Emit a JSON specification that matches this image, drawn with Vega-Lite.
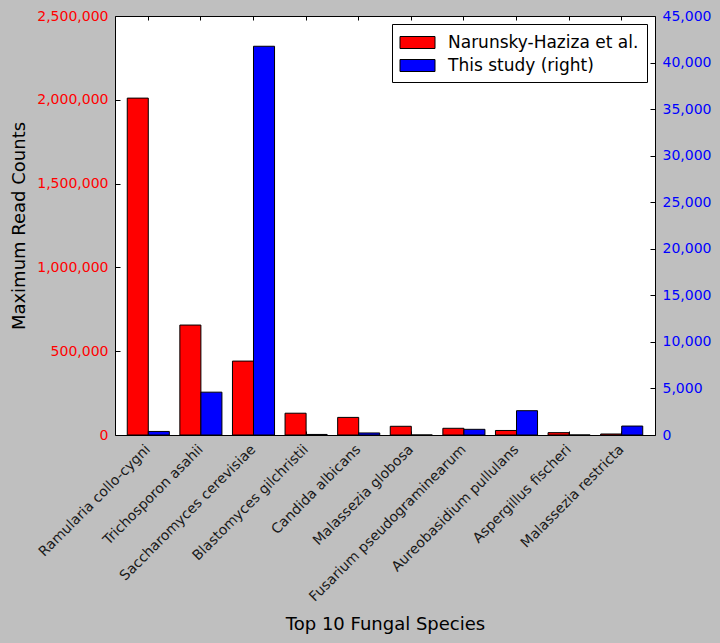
{
  "$schema": "https://vega.github.io/schema/vega-lite/v6.json",
  "width": 540,
  "height": 419,
  "autosize": {"type": "none"},
  "padding": {"left": 115, "top": 16, "right": 65, "bottom": 208},
  "background": "#bfbfbf",
  "config": {
    "font": "DejaVu Sans",
    "view": {"fill": "white", "stroke": "black", "strokeWidth": 1},
    "axis": {"grid": false, "domain": false, "tickColor": "black", "tickWidth": 1}
  },
  "data": {
    "values": [
      {"species": "Ramularia collo-cygni", "source": "Narunsky-Haziza et al.", "count": 2010000},
      {"species": "Ramularia collo-cygni", "source": "This study (right)", "count": 380},
      {"species": "Trichosporon asahii", "source": "Narunsky-Haziza et al.", "count": 656000},
      {"species": "Trichosporon asahii", "source": "This study (right)", "count": 4600},
      {"species": "Saccharomyces cerevisiae", "source": "Narunsky-Haziza et al.", "count": 441000},
      {"species": "Saccharomyces cerevisiae", "source": "This study (right)", "count": 41750},
      {"species": "Blastomyces gilchristii", "source": "Narunsky-Haziza et al.", "count": 130000},
      {"species": "Blastomyces gilchristii", "source": "This study (right)", "count": 60},
      {"species": "Candida albicans", "source": "Narunsky-Haziza et al.", "count": 105000},
      {"species": "Candida albicans", "source": "This study (right)", "count": 220},
      {"species": "Malassezia globosa", "source": "Narunsky-Haziza et al.", "count": 52000},
      {"species": "Malassezia globosa", "source": "This study (right)", "count": 0},
      {"species": "Fusarium pseudograminearum", "source": "Narunsky-Haziza et al.", "count": 40000},
      {"species": "Fusarium pseudograminearum", "source": "This study (right)", "count": 610},
      {"species": "Aureobasidium pullulans", "source": "Narunsky-Haziza et al.", "count": 27000},
      {"species": "Aureobasidium pullulans", "source": "This study (right)", "count": 2610},
      {"species": "Aspergillus fischeri", "source": "Narunsky-Haziza et al.", "count": 14000},
      {"species": "Aspergillus fischeri", "source": "This study (right)", "count": 0},
      {"species": "Malassezia restricta", "source": "Narunsky-Haziza et al.", "count": 6000},
      {"species": "Malassezia restricta", "source": "This study (right)", "count": 960}
    ]
  },
  "encoding": {
    "xOffset": {
      "field": "source",
      "type": "nominal",
      "sort": null,
      "scale": {"domain": ["Narunsky-Haziza et al.", "This study (right)"], "paddingInner": 0, "paddingOuter": 0}
    },
    "color": {
      "field": "source",
      "type": "nominal",
      "sort": null,
      "scale": {"domain": ["Narunsky-Haziza et al.", "This study (right)"], "range": ["#ff0000", "#0000ff"]},
      "legend": {
        "title": null,
        "orient": "top-right",
        "offset": 8,
        "fillColor": "white",
        "strokeColor": "black",
        "cornerRadius": 0,
        "padding": 8,
        "rowPadding": 4,
        "symbolType": "M-1.75,-0.6H1.75V0.6H-1.75Z",
        "symbolSize": 400,
        "symbolOffset": 7,
        "symbolStrokeColor": "black",
        "symbolStrokeWidth": 1,
        "symbolOpacity": 1,
        "labelFontSize": 17,
        "labelColor": "black",
        "labelOffset": 20,
        "labelLimit": 400,
        "encode": {"symbols": {"update": {"stroke": {"value": "black"}, "strokeWidth": {"value": 1}, "opacity": {"value": 1}}}}
      }
    }
  },
  "layer": [
    {
      "transform": [{"filter": "datum.source === 'Narunsky-Haziza et al.'"}],
      "mark": {"type": "bar", "stroke": "black", "strokeWidth": 1, "opacity": 1},
      "encoding": {
        "x": {
          "field": "species",
          "type": "nominal",
          "sort": null,
          "scale": {"paddingInner": 0.2, "paddingOuter": 0.233},
          "axis": {
            "orient": "bottom",
            "title": "Top 10 Fungal Species",
            "titleFontSize": 18,
            "titleFontWeight": "normal",
            "titleColor": "black",
            "titleY": 194,
            "titleBaseline": "alphabetic",
            "labelAngle": -45,
            "labelAlign": "right",
            "labelBaseline": "middle",
            "labelFontSize": 14,
            "labelColor": "#1a1a1a",
            "labelLimit": 400,
            "labelOverlap": false,
            "tickSize": -4,
            "labelPadding": 16
          }
        },
        "y": {
          "field": "count",
          "type": "quantitative",
          "scale": {"domain": [0, 2500000], "nice": false, "zero": true},
          "axis": {
            "orient": "left",
            "title": "Maximum Read Counts",
            "titleFontSize": 18,
            "titleFontWeight": "normal",
            "titleColor": "black",
            "titleAngle": -90,
            "titleX": -91,
            "titleY": 209.5,
            "titleAlign": "center",
            "titleBaseline": "alphabetic",
            "values": [0, 500000, 1000000, 1500000, 2000000, 2500000],
            "format": ",d",
            "labelColor": "#ff0000",
            "labelFontSize": 14,
            "labelOverlap": false,
            "labelFlush": false,
            "tickSize": -5,
            "labelPadding": 12
          }
        }
      }
    },
    {
      "transform": [{"filter": "datum.source === 'This study (right)'"}],
      "mark": {"type": "bar", "stroke": "black", "strokeWidth": 1, "opacity": 1},
      "encoding": {
        "x": {
          "field": "species",
          "type": "nominal",
          "sort": null,
          "axis": {"orient": "top", "labels": false, "title": null, "tickSize": -4}
        },
        "y": {
          "field": "count",
          "type": "quantitative",
          "scale": {"domain": [0, 45000], "nice": false, "zero": true},
          "axis": {
            "orient": "right",
            "title": null,
            "values": [0, 5000, 10000, 15000, 20000, 25000, 30000, 35000, 40000, 45000],
            "format": ",d",
            "labelColor": "#0000ff",
            "labelFontSize": 14,
            "labelOverlap": false,
            "labelFlush": false,
            "tickSize": -5,
            "labelPadding": 12
          }
        }
      }
    }
  ],
  "resolve": {"scale": {"y": "independent"}, "axis": {"x": "independent"}}
}
